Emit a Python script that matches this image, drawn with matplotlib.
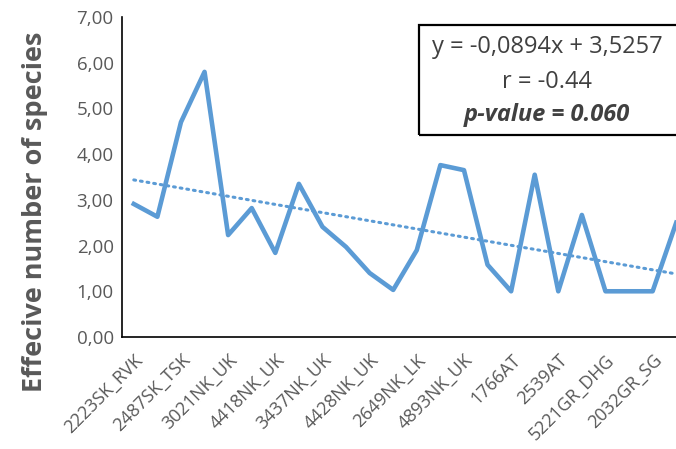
import matplotlib.pyplot as plt
import numpy as np

plt.rcParams['font.family'] = ['Open Sans', 'DejaVu Sans']

labels = ['2223SK_RVK', '', '2487SK_TSK', '', '3021NK_UK', '', '4418NK_UK', '',
          '3437NK_UK', '', '4428NK_UK', '', '2649NK_LK', '', '4893NK_UK', '',
          '1766AT', '', '2539AT', '', '5221GR_DHG', '', '2032GR_SG', '']
values = [2.91, 2.63, 4.70, 5.80, 2.23, 2.82, 1.84, 3.35, 2.41, 1.97, 1.40, 1.03,
          1.90, 3.76, 3.65, 1.58, 1.00, 3.55, 1.00, 2.67, 1.00, 1.00, 1.00, 2.50]
yticks = [0, 1, 2, 3, 4, 5, 6, 7]
slope = -0.0894
intercept = 3.5257
r_value = -0.44
p_value = 0.060

blue = '#5B9BD5'
grey = '#595959'

fig = plt.figure(figsize=(6.76, 4.49), dpi=100)
ax = fig.add_axes([122/676, 112/449, (688-122)/676, 320/449])

x = np.arange(len(values))
ax.plot(x, values, color=blue, lw=3.3)
# linear trend line (Excel style, x counted from 1)
trend = intercept + slope*(x + 1)
ax.plot(x, trend, color=blue, lw=2.2, linestyle=(0, (0.6, 1.6)), dash_capstyle='round')

ax.set_xlim(-0.5, len(values) - 0.5)
ax.set_ylim(0, 7)
ax.set_yticks(yticks)
ax.set_yticklabels([('%.2f' % v).replace('.', ',') for v in yticks], fontsize=13.5, color=grey)
ax.set_xticks(x[::2])
ax.set_xticklabels(labels[::2], rotation=45, ha='right', va='top',
                   rotation_mode='anchor', fontsize=13, color=grey)
ax.tick_params(axis='both', length=0, pad=6)
ax.tick_params(axis='x', pad=10)
for s in ['top', 'right']:
    ax.spines[s].set_visible(False)
for s in ['left', 'bottom']:
    ax.spines[s].set_color('black')
    ax.spines[s].set_linewidth(1.2)

fig.text(35/676, 1 - 212/449, 'Effecive number of species', rotation=90,
         ha='center', va='center', fontsize=19.5, fontweight='bold', color=grey)

rect = plt.Rectangle((419/676, 1 - 135/449), (700-419)/676, 110/449,
                     transform=fig.transFigure, fill=False, edgecolor='black', lw=1.6)
fig.patches.append(rect)
eq = 'y = %s' % ('%.4fx + %.4f' % (slope, intercept)).replace('.', ',')
fig.text(547/676, 1 - 47/449, eq, ha='center', va='center', fontsize=17, color='#404040')
fig.text(547/676, 1 - 82/449, 'r = %.2f' % r_value, ha='center', va='center',
         fontsize=17, color='#404040')
fig.text(547/676, 1 - 115/449, 'p-value = %.3f' % p_value, ha='center', va='center',
         fontsize=17, color='#404040', fontweight='bold', style='italic')

plt.savefig('out.png', dpi=100)
